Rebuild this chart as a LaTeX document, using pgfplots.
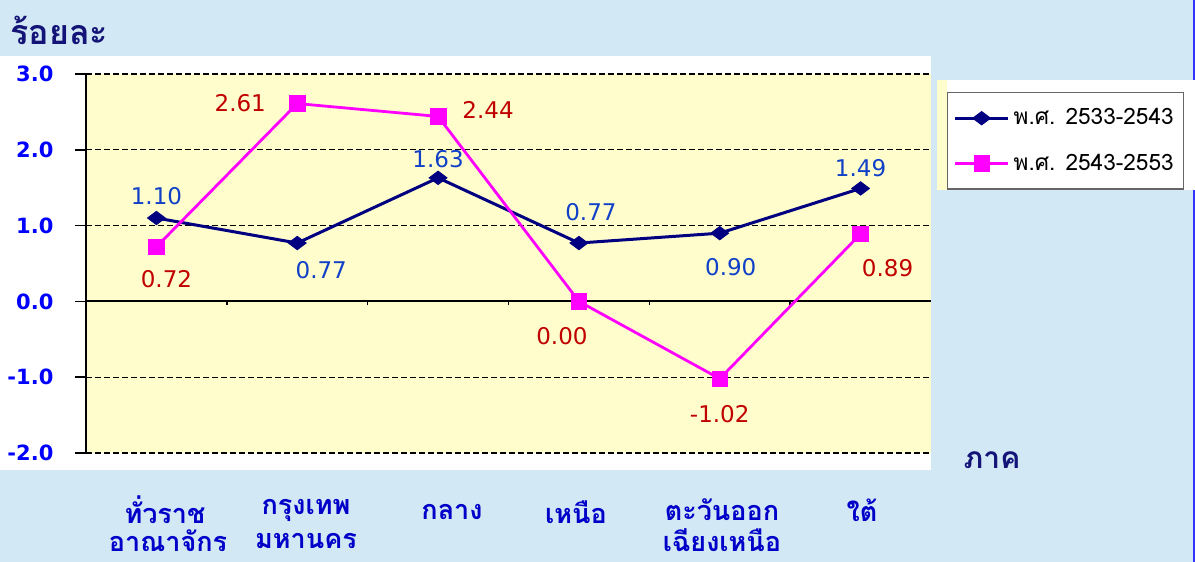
\documentclass[border=0pt]{standalone}
\usepackage{fontspec}
\usepackage{pgfplots}
\pgfplotsset{compat=1.18}
\setmainfont{DejaVu Sans}
\newfontfamily\thaifont[Script=Thai]{Loma}
\definecolor{bgblue}{RGB}{210,232,245}
\definecolor{plotyellow}{RGB}{255,253,204}
\definecolor{navy}{RGB}{0,0,128}
\definecolor{magentaC}{RGB}{255,0,255}
\definecolor{lblblue}{RGB}{16,64,200}
\definecolor{lblred}{RGB}{192,0,0}
\definecolor{tickblue}{RGB}{0,0,255}
\definecolor{catblue}{RGB}{0,0,200}
\definecolor{titlenavy}{RGB}{20,20,120}
\newcommand{\px}[2]{({#1*0.5pt},{(562-#2)*0.5pt})}
\begin{document}
\begin{tikzpicture}
\useasboundingbox (0,0) rectangle (597.5pt,281pt);
\fill[bgblue] (0,0) rectangle (597.5pt,281pt);
\draw[blue!80!white, line width=0.8pt] (597.1pt,0) -- (597.1pt,281pt);
\fill[white] \px{0}{56} rectangle \px{931}{470};
\fill[white] \px{937}{80} rectangle \px{1195}{190};
\fill[plotyellow] \px{937}{80} rectangle \px{947}{190};
\node[anchor=west, font=\thaifont\bfseries\fontsize{17}{19}\selectfont, text=titlenavy, inner sep=0pt] at \px{10}{30} {ร้อยละ};
\node[font=\thaifont\bfseries\fontsize{15}{17}\selectfont, text=titlenavy, inner sep=0pt] at \px{992}{460} {ภาค};
\begin{axis}[
  at={(43pt,54.5pt)}, anchor=south west,
  scale only axis, width=422.5pt, height=189.5pt,
  xmin=-0.5, xmax=5.5, ymin=-2, ymax=3,
  axis y line=left, axis x line=middle,
  axis line style={-, black, line width=1pt},
  axis background/.style={fill=plotyellow},
  xtick={0.5,1.5,2.5,3.5,4.5}, xticklabels={},
  xtick style={black, line width=0.8pt, /pgfplots/major tick length=2pt},
  xtick align=outside,
  ytick={-2,-1,0,1,2,3},
  ytick style={black, line width=0.8pt, /pgfplots/major tick length=5.5pt},
  ytick align=outside,
  ymajorgrids, grid style={black, dashed, line width=0.6pt, dash pattern=on 3pt off 1.5pt},
  yticklabel style={text=tickblue, font=\bfseries\fontsize{10.5}{12}\selectfont, xshift=-8.5pt},
  /pgf/number format/assume math mode=true,
  yticklabel={\pgfmathprintnumber[fixed,fixed zerofill,precision=1]{\tick}},
  clip=false,
  legend style={at={(1.019,0.9525)}, anchor=north west, draw=black!60, fill=white, line width=0.6pt,
    font=\thaifont\fontsize{11.3}{13}\selectfont, inner xsep=3pt, inner ysep=6pt, row sep=9pt,
    /tikz/every even column/.append style={column sep=1pt}},
  legend cell align=left,
  legend image code/.code={\draw[mark repeat=2,mark phase=2] plot coordinates {(0pt,0pt)(13.25pt,0pt)(26.5pt,0pt)};},
]
\addplot[navy, line width=1.5pt, mark=diamond*, mark size=4.4pt, mark options={rotate=90, fill=navy, line width=0.5pt}]
  coordinates {(0,1.10) (1,0.77) (2,1.63) (3,0.77) (4,0.90) (5,1.49)};
\addlegendentry{พ.ศ. 2533-2543}
\addplot[magentaC, line width=1.4pt, mark=square*, mark size=3.9pt, mark options={fill=magentaC, line width=0.3pt}]
  coordinates {(0,0.72) (1,2.61) (2,2.44) (3,0.00) (4,-1.02) (5,0.89)};
\addlegendentry{พ.ศ. 2543-2553}
\begin{scope}[every node/.style={font=\fontsize{11.5}{13}\selectfont, inner sep=0pt}]
\node[text=lblblue, yshift=11pt] at (axis cs:0,1.10) {1.10};
\node[text=lblblue, xshift=12pt, yshift=-13.5pt] at (axis cs:1,0.77) {0.77};
\node[text=lblblue, yshift=9.5pt] at (axis cs:2,1.63) {1.63};
\node[text=lblblue, xshift=6pt, yshift=15.5pt] at (axis cs:3,0.77) {0.77};
\node[text=lblblue, xshift=5.5pt, yshift=-17pt] at (axis cs:4,0.90) {0.90};
\node[text=lblblue, yshift=10pt] at (axis cs:5,1.49) {1.49};
\node[text=lblred, xshift=5pt, yshift=-16pt] at (axis cs:0,0.72) {0.72};
\node[text=lblred, xshift=-28.5pt] at (axis cs:1,2.61) {2.61};
\node[text=lblred, xshift=25pt, yshift=3pt] at (axis cs:2,2.44) {2.44};
\node[text=lblred, xshift=-8.5pt, yshift=-17.5pt] at (axis cs:3,0.00) {0.00};
\node[text=lblred, yshift=-17.5pt] at (axis cs:4,-1.02) {-1.02};
\node[text=lblred, xshift=13.5pt, yshift=-17pt] at (axis cs:5,0.89) {0.89};
\end{scope}
\end{axis}
\begin{scope}[every node/.style={font=\thaifont\bfseries\fontsize{13.5}{15}\selectfont, text=catblue, inner sep=0pt, align=center}]
\node at \px{165}{510} {ทั่วราช};
\node at \px{168}{541} {อาณาจักร};
\node at \px{306}{510} {กรุงเทพ};
\node at \px{306}{541} {มหานคร};
\node at \px{452}{512} {กลาง};
\node at \px{576}{512} {เหนือ};
\node at \px{722}{510} {ตะวันออก};
\node at \px{722}{540} {เฉียงเหนือ};
\node at \px{862}{510} {ใต้};
\end{scope}
\end{tikzpicture}
\end{document}
